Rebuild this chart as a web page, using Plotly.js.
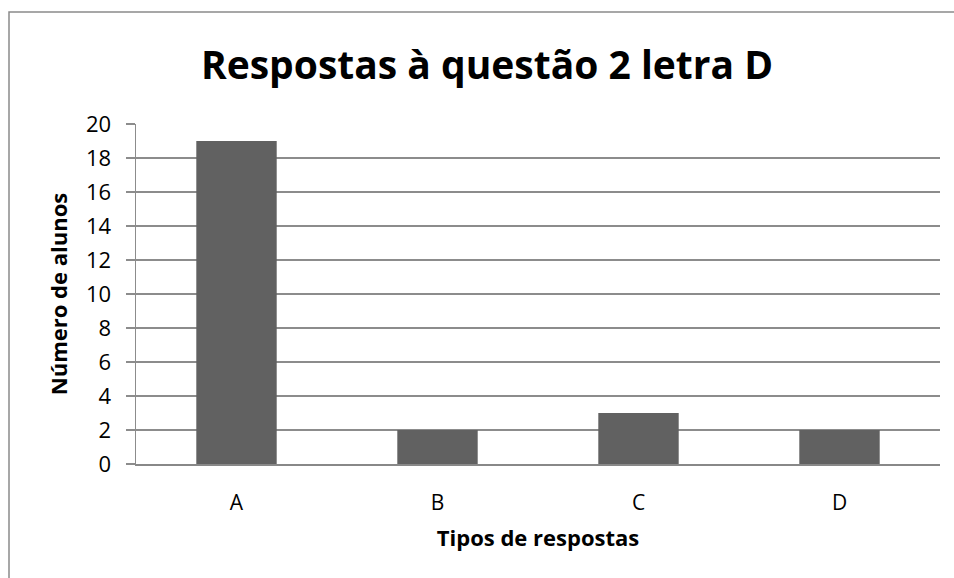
<!DOCTYPE html>
<html><head><meta charset="utf-8">
<script src="https://cdn.plot.ly/plotly-3.0.1.min.js"></script>
<style>html,body{margin:0;padding:0;background:#fff}#chart{width:954px;height:578px}</style>
</head><body><div id="chart"></div>
<script>
const categories = ["A", "B", "C", "D"];
const values = [19, 2, 3, 2];
const yTicks = [0, 2, 4, 6, 8, 10, 12, 14, 16, 18, 20];

const font = "Open Sans, Noto Sans, sans-serif";
const trace = {
  type: "bar", x: categories, y: values, width: 0.4,
  marker: {color: "#616161"}, hoverinfo: "none"
};
const layout = {
  width: 954, height: 578,
  margin: {l: 136, r: 14, t: 124, b: 114},
  paper_bgcolor: "#fff", plot_bgcolor: "#fff",
  showlegend: false,
  title: {text: "<b>Respostas à questão 2 letra D</b>", font: {family: font, size: 39, color: "#000"},
          x: 487/954, xanchor: "center", xref: "container", y: 1 - 65/578, yanchor: "middle", yref: "container"},
  xaxis: {
    type: "category", showgrid: false, showline: true, linecolor: "#888", linewidth: 1.5,
    ticks: "", ticklabelstandoff: 19, tickfont: {family: font, size: 21, color: "#000"},
    title: {text: "<b>Tipos de respostas</b>", font: {family: font, size: 22, color: "#000"}, standoff: 16},
    fixedrange: true
  },
  yaxis: {
    range: [0, 20], tickvals: yTicks, showgrid: true, gridcolor: "#8c8c8c", gridwidth: 1.5,
    showline: true, linecolor: "#8c8c8c", linewidth: 1.5, zeroline: false,
    ticks: "outside", ticklen: 9, tickwidth: 1.5, tickcolor: "#8c8c8c",
    ticklabelstandoff: 10, tickfont: {family: font, size: 22, color: "#000"},
    title: {text: "<b>Número de alunos</b>", font: {family: font, size: 22, color: "#000"}, standoff: 12},
    fixedrange: true
  },
  shapes: [{type: "rect", xref: "paper", yref: "paper",
            x0: (9 - 136) / 804, x1: (965 - 136) / 804, y0: (464 - 600) / 340, y1: (464 - 12) / 340,
            line: {color: "#8a8a8a", width: 1.5}, fillcolor: "rgba(0,0,0,0)", layer: "below"}]
};
Plotly.newPlot("chart", [trace], layout, {displayModeBar: false, staticPlot: true});
</script></body></html>
